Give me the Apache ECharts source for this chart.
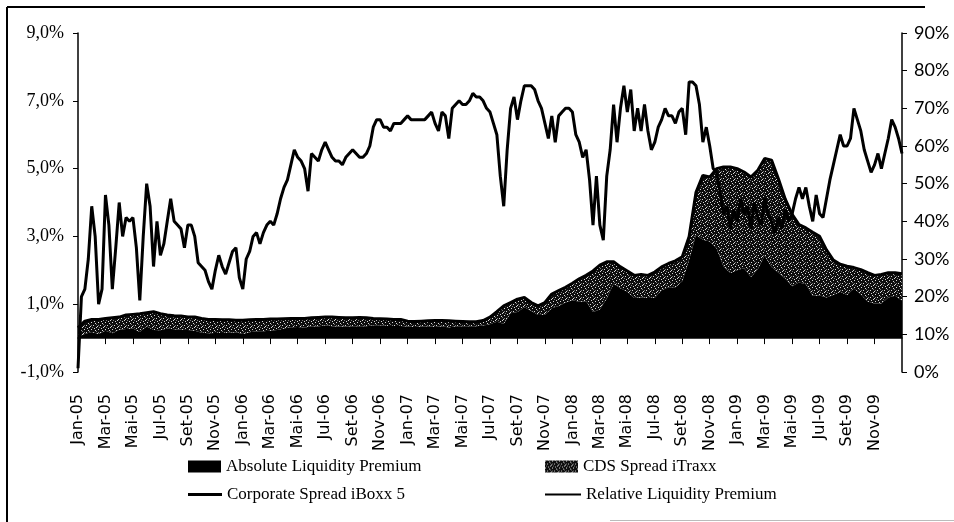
<!DOCTYPE html>
<html>
<head>
<meta charset="utf-8">
<script src="https://cdn.jsdelivr.net/npm/echarts@6/dist/echarts.min.js"></script>
<style>
    html, body { margin: 0; padding: 0; background: #fff; }
    #main { width: 954px; height: 522px; }
</style>
</head>
<body>
<div id="main"></div>
<script type="text/javascript">
    // tick every 2 months, starting Jan-05
    var tickLabels = ['Jan-05','Mar-05','Mai-05','Jul-05','Set-05','Nov-05',
                      'Jan-06','Mar-06','Mai-06','Jul-06','Set-06','Nov-06',
                      'Jan-07','Mar-07','Mai-07','Jul-07','Set-07','Nov-07',
                      'Jan-08','Mar-08','Mai-08','Jul-08','Set-08','Nov-08',
                      'Jan-09','Mar-09','Mai-09','Jul-09','Set-09','Nov-09'];

    // Relative Liquidity Premium (%), one value per quarter month (Jan-05 .. end Dec-09)
    var relLiquidity = [
        1,20,22,30, 44,36,18,22, 47,39,22,33, 45,36,41,40, 41,33,19,36, 50,44,28,40,
        31,34,40,46, 40,39,38,33, 39,39,36,29, 28,27,24,22, 27,31,28,26, 29,32,33,25,
        22,30,32,36, 37,34,37,39, 40,39,42,46, 49,51,55,59, 57,56,54,48, 58,57,56,59,
        61,59,57,56, 56,55,57,58, 59,58,57,57, 58,60,65,67, 67,65,65,64, 66,66,66,67,
        68,67,67,67, 67,67,68,69, 66,64,69,68, 62,70,71,72, 71,71,72,74, 73,73,72,70,
        69,66,63,52, 44,59,70,73, 67,72,76,76, 76,75,72,70, 66,62,68,61, 68,69,70,70,
        69,63,61,57, 59,51,39,52, 39,35,52,59, 71,61,70,76, 69,75,64,70, 64,71,64,59,
        61,65,67,70, 68,68,66,69, 70,63,77,77, 76,71,61,65, 60,54,53,48, 42,44,38,43,
        40,46,42,44, 38,45,41,39, 46,42,40,37, 41,38,43,40, 42,46,49,46, 49,44,40,47,
        42,41,46,51, 55,59,63,60, 60,62,70,67, 64,59,56,53, 55,58,54,58, 62,67,65,62,
        58
    ];

    // spreads (%), one value per half month
    var absLiquidity = [
        0.05,0.12,0.18,0.12,0.22,0.14,0.25,0.27,0.28,0.18,
        0.35,0.24,0.23,0.28,0.26,0.25,0.24,0.22,0.16,0.14,
        0.15,0.15,0.16,0.17,0.12,0.17,0.20,0.20,0.22,0.24,
        0.28,0.32,0.33,0.31,0.35,0.34,0.38,0.35,0.34,0.34,
        0.35,0.35,0.35,0.38,0.38,0.36,0.36,0.36,0.34,0.33,
        0.34,0.35,0.33,0.35,0.31,0.35,0.35,0.35,0.35,0.37,
        0.41,0.48,0.42,0.73,0.77,0.91,0.80,0.68,0.69,0.88,
        0.95,1.05,1.12,1.07,1.09,0.77,0.84,1.17,1.60,1.47,
        1.37,1.18,1.20,1.18,1.19,1.41,1.50,1.50,1.68,2.31,
        3.05,2.90,2.85,2.65,2.12,1.92,2.00,2.06,1.80,2.03,
        2.44,2.10,1.93,1.76,1.53,1.64,1.59,1.25,1.26,1.20,
        1.27,1.37,1.27,1.46,1.29,1.08,1.02,1.02,1.20,1.25,
        1.10
    ];
    var cdsSpread = [
        0.25,0.38,0.37,0.43,0.36,0.46,0.37,0.41,0.42,0.54,
        0.40,0.54,0.49,0.40,0.40,0.40,0.38,0.40,0.42,0.41,
        0.40,0.39,0.38,0.36,0.41,0.37,0.35,0.35,0.34,0.32,
        0.29,0.26,0.25,0.27,0.25,0.27,0.24,0.27,0.27,0.26,
        0.25,0.26,0.25,0.20,0.19,0.20,0.19,0.19,0.16,0.16,
        0.16,0.16,0.19,0.17,0.20,0.15,0.14,0.13,0.13,0.15,
        0.21,0.30,0.53,0.32,0.38,0.29,0.25,0.27,0.36,0.42,
        0.45,0.45,0.50,0.68,0.76,1.21,1.31,1.08,0.65,0.63,
        0.61,0.67,0.68,0.67,0.76,0.69,0.70,0.78,0.72,0.69,
        1.25,1.90,1.90,2.35,2.93,3.13,3.00,2.84,2.95,2.92,
        2.86,3.15,2.77,2.34,2.12,1.71,1.66,1.87,1.74,1.40,
        1.03,0.81,0.85,0.62,0.73,0.85,0.83,0.86,0.73,0.68,
        0.80
    ];
    var corpSpread = [
        0.30,0.50,0.55,0.55,0.58,0.60,0.62,0.68,0.70,0.72,
        0.75,0.78,0.72,0.68,0.66,0.65,0.62,0.62,0.58,0.55,
        0.55,0.54,0.54,0.53,0.53,0.54,0.55,0.55,0.56,0.56,
        0.57,0.58,0.58,0.58,0.60,0.61,0.62,0.62,0.61,0.60,
        0.60,0.61,0.60,0.58,0.57,0.56,0.55,0.55,0.50,0.49,
        0.50,0.51,0.52,0.52,0.51,0.50,0.49,0.48,0.48,0.52,
        0.62,0.78,0.95,1.05,1.15,1.20,1.05,0.95,1.05,1.30,
        1.40,1.50,1.62,1.75,1.85,1.98,2.15,2.25,2.25,2.10,
        1.98,1.85,1.88,1.85,1.95,2.10,2.20,2.28,2.40,3.00,
        4.30,4.80,4.75,5.00,5.05,5.05,5.00,4.90,4.75,4.95,
        5.30,5.25,4.70,4.10,3.65,3.35,3.25,3.12,3.00,2.60,
        2.30,2.18,2.12,2.08,2.02,1.93,1.85,1.88,1.93,1.93,
        1.90
    ];

    // category names: half-month slots for the spreads, quarter-month slots for the ratio
    var halfCats = corpSpread.map(function (v, i) {
        return (i % 4 === 0 && tickLabels[i / 4]) ? tickLabels[i / 4] : 'h' + i;
    });
    var quarterCats = relLiquidity.map(function (v, i) { return 'q' + i; });
    function everyTwoMonths(i) { return i % 4 === 0 && i < 120; }

    // speckled fill like the printed grey (mostly black, a few light specks)
    function stipple() {
        var c = document.createElement('canvas');
        c.width = 7; c.height = 7;
        var g = c.getContext('2d');
        g.fillStyle = '#0d0d0d';
        g.fillRect(0, 0, 7, 7);
        g.fillStyle = '#d8d8d8';
        [[0,0],[4,1],[2,3],[6,4],[3,6],[5,5]].forEach(function (p) {
            g.fillRect(p[0], p[1], 1, 1);
        });
        g.fillStyle = '#777';
        [[1,5],[5,2],[0,3]].forEach(function (p) {
            g.fillRect(p[0], p[1], 1, 1);
        });
        return c;
    }
    var dots = { image: stipple(), repeat: 'repeat' };

    var myChart = echarts.init(document.getElementById('main'));

    var legendText = { fontFamily: 'Liberation Serif', fontSize: 17, color: '#000' };

    var option = {
        animation: false,
        backgroundColor: '#fff',
        grid: { left: 78, right: 52, top: 33, bottom: 150 },
        legend: [
            { data: [{ name: 'Absolute Liquidity Premium', icon: 'rect', itemStyle: { color: '#000' } }],
              left: 183, top: 453, itemWidth: 33, itemHeight: 12, textStyle: legendText, selectedMode: false },
            { data: [{ name: 'CDS Spread iTraxx', icon: 'rect', itemStyle: { color: dots } }],
              left: 540, top: 453, itemWidth: 33, itemHeight: 12, textStyle: legendText, selectedMode: false },
            { data: [{ name: 'Corporate Spread iBoxx 5', icon: 'rect', itemStyle: { color: '#000' } }],
              left: 183, top: 481, itemWidth: 34, itemHeight: 3, textStyle: legendText, selectedMode: false },
            { data: [{ name: 'Relative Liquidity Premium', icon: 'rect', itemStyle: { color: '#000' } }],
              left: 540, top: 481, itemWidth: 36, itemHeight: 2, textStyle: legendText, selectedMode: false }
        ],
        xAxis: [{
            type: 'category',
            data: halfCats,
            boundaryGap: false,
            axisLine: { onZero: true, onZeroAxisIndex: 0, lineStyle: { color: '#000', width: 1.5 } },
            axisTick: { length: 6, interval: everyTwoMonths, lineStyle: { color: '#000' } },
            axisLabel: {
                rotate: 90, margin: 22, interval: everyTwoMonths,
                fontFamily: 'DejaVu Sans', fontSize: 16, color: '#000'
            },
            splitLine: { show: false }
        }, {
            type: 'category',
            data: quarterCats,
            boundaryGap: false,
            show: false
        }],
        yAxis: [{
            type: 'value', position: 'left',
            min: -1, max: 9, interval: 2,
            axisLine: { show: true, lineStyle: { color: '#000', width: 1.5 } },
            axisTick: { show: true, length: 5, lineStyle: { color: '#000' } },
            axisLabel: {
                margin: 14, fontFamily: 'Liberation Serif', fontSize: 18, color: '#000',
                formatter: function (v) { return v.toFixed(1).replace('.', ',') + '%'; }
            },
            splitLine: { show: false }
        }, {
            type: 'value', position: 'right',
            min: 0, max: 90, interval: 10,
            axisLine: { show: true, lineStyle: { color: '#000', width: 1.5 } },
            axisTick: { show: true, length: 5, lineStyle: { color: '#000' } },
            axisLabel: {
                margin: 12, fontFamily: 'Lato', fontSize: 18, color: '#000',
                formatter: '{value}%'
            },
            splitLine: { show: false }
        }],
        series: [{
            name: 'Absolute Liquidity Premium',
            type: 'line', stack: 'spread', xAxisIndex: 0, yAxisIndex: 0,
            data: absLiquidity,
            symbol: 'none',
            itemStyle: { color: '#000' },
            lineStyle: { width: 0 },
            areaStyle: { color: '#000', opacity: 1 }
        }, {
            name: 'CDS Spread iTraxx',
            type: 'line', stack: 'spread', xAxisIndex: 0, yAxisIndex: 0,
            data: cdsSpread,
            symbol: 'none',
            itemStyle: { color: '#333' },
            lineStyle: { width: 0 },
            areaStyle: { color: dots, opacity: 1 }
        }, {
            name: 'Corporate Spread iBoxx 5',
            type: 'line', xAxisIndex: 0, yAxisIndex: 0,
            data: corpSpread,
            symbol: 'none',
            itemStyle: { color: '#000' },
            lineStyle: { color: '#000', width: 3 }
        }, {
            name: 'Relative Liquidity Premium',
            type: 'line', xAxisIndex: 1, yAxisIndex: 1,
            data: relLiquidity,
            symbol: 'none',
            itemStyle: { color: '#000' },
            lineStyle: { color: '#000', width: 3 }
        }],
        graphic: [
            { type: 'line', shape: { x1: 7, y1: 7, x2: 7, y2: 522 }, style: { stroke: '#000', lineWidth: 2 } },
            { type: 'line', shape: { x1: 7, y1: 7, x2: 925, y2: 7 }, style: { stroke: '#000', lineWidth: 2 } },
            { type: 'line', shape: { x1: 610, y1: 520.5, x2: 954, y2: 520.5 }, style: { stroke: '#bbb', lineWidth: 1 } }
        ]
    };

    myChart.setOption(option);
</script>
</body>
</html>
